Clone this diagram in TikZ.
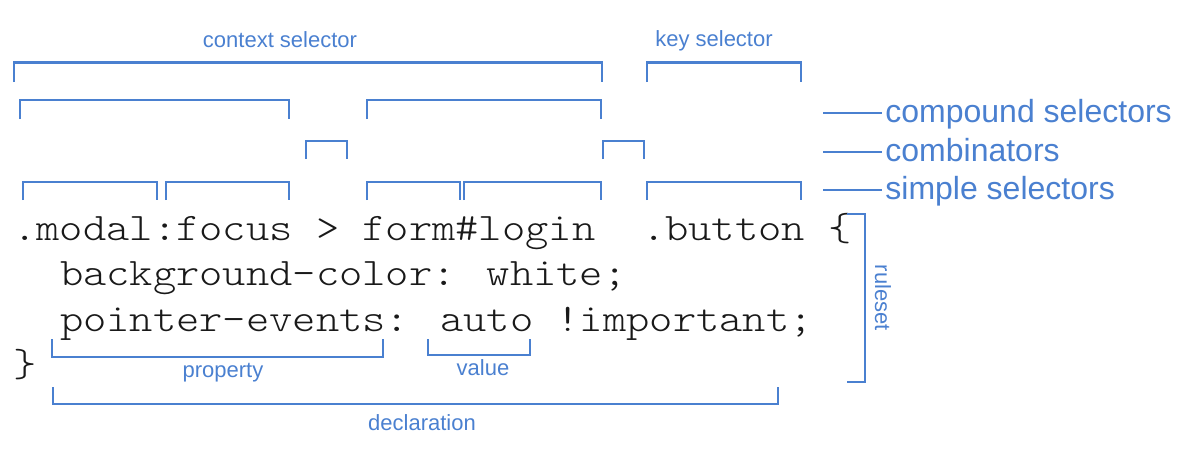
\documentclass[tikz,border=0pt]{standalone}
\usepackage{fontspec}
\setmainfont{Liberation Sans}
\newfontfamily\codefont{lmmonolt10-regular}[Extension=.otf]
\definecolor{cssblue}{RGB}{74,128,208}
\definecolor{codeink}{RGB}{25,25,25}
\newcommand{\codeline}[1]{\scalebox{1.137}[1]{#1}}
\begin{document}
\begin{tikzpicture}[x=0.5pt,y=-0.5pt,
  brk/.style={draw=cssblue,line width=1.2pt,line join=miter},
  code/.style={anchor=base west,inner sep=0pt,text=codeink,font=\codefont\fontsize{19.5pt}{23pt}\selectfont},
  lbl/.style={anchor=base,inner sep=0pt,text=cssblue,font=\fontsize{11pt}{13pt}\selectfont},
  biglbl/.style={anchor=base west,inner sep=0pt,text=cssblue,font=\fontsize{16pt}{19pt}\selectfont}]
\useasboundingbox (0,0) rectangle (1200,462);

% code lines
\node[code] (l1a) at (13,240) {\codeline{.modal:focus > form\#login}};
\node[code] (l1b) at (641.6,240) {\codeline{.button \{}};
\node[code] (l2) at (59.6,285.6) {\codeline{background-color: white;}};
\node[code] (l3) at (59.6,331.2) {\codeline{pointer-events: auto !important;}};
\node[code] (l4) at (13,376.8) {\codeline{\}}};

% top labels
\node[lbl] (ctx) at (280,47) {context selector};
\node[lbl] (key) at (714,46) {key selector};

% context / key selector brackets
\draw[brk] (14,82) -- (14,62.5) -- (602,62.5) -- (602,82);
\draw[brk] (647,82) -- (647,62.5) -- (801,62.5) -- (801,82);

% compound selectors
\draw[brk] (20,119) -- (20,100) -- (289,100) -- (289,119);
\draw[brk] (367,119) -- (367,100) -- (601,100) -- (601,119);

% combinators
\draw[brk] (306,159) -- (306,141) -- (347,141) -- (347,159);
\draw[brk] (603,159) -- (603,141) -- (644,141) -- (644,159);

% simple selectors
\draw[brk] (23,200) -- (23,182) -- (157,182) -- (157,200);
\draw[brk] (166,200) -- (166,182) -- (289,182) -- (289,200);
\draw[brk] (367,200) -- (367,182) -- (460,182) -- (460,200);
\draw[brk] (464,200) -- (464,182) -- (601,182) -- (601,200);
\draw[brk] (647,200) -- (647,182) -- (801,182) -- (801,200);

% right legend
\node[biglbl] (cmp) at (885,122.8) {compound selectors};
\node[biglbl] (cmb) at (885,161.2) {combinators};
\node[biglbl] (smp) at (885,199.5) {simple selectors};
\coordinate (e1) at (823,113);
\coordinate (e2) at (823,152);
\coordinate (e3) at (823,190);
\draw[brk] (e1) -- ([xshift=-1.5pt]e1 -| cmp.west);
\draw[brk] (e2) -- ([xshift=-1.5pt]e2 -| cmb.west);
\draw[brk] (e3) -- ([xshift=-1.5pt]e3 -| smp.west);

% ruleset
\draw[brk] (847,214) -- (865,214) -- (865,382) -- (847,382);
\node[lbl,anchor=center,rotate=-90] (rs) at (883,298) {ruleset};

% property / value / declaration
\draw[brk] (52,339) -- (52,357) -- (383,357) -- (383,339);
\draw[brk] (428,339) -- (428,355) -- (530,355) -- (530,339);
\draw[brk] (53,387) -- (53,404) -- (778,404) -- (778,387);
\node[lbl] (prop) at (223,377) {property};
\node[lbl] (val) at (483,375) {value};
\node[lbl] (decl) at (422,430) {declaration};
\end{tikzpicture}
\end{document}
